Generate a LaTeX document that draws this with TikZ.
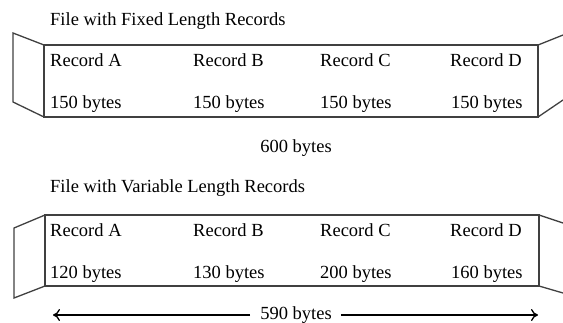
\documentclass[tikz,border=0pt]{standalone}
\usepackage{fontspec}
\setmainfont{Liberation Serif}
\usetikzlibrary{arrows.meta}
\begin{document}
\begin{tikzpicture}[x=1pt,y=-1pt,
  txt/.style={inner sep=0pt,anchor=base west,font=\fontsize{18.5}{20}\selectfont},
  ctxt/.style={txt,anchor=base},
  edge/.style={draw=black!75,line width=1.3pt,line join=miter},
  dim/.style={draw=black,line width=1.3pt}]
\useasboundingbox (0,0) rectangle (563,322);
\clip (0,0) rectangle (563,322);

% ---- file with fixed length records ----
\node[txt] (t1) at (50,25) {File with Fixed Length Records};
\coordinate (f1nw) at (44,45);
\coordinate (f1se) at (538,117);
\draw[edge] (f1nw) rectangle (f1se);
\draw[edge] (f1nw) -- (13,33) -- (13,102) -- (f1nw |- f1se);
\draw[edge] (f1se |- f1nw) -- (563,35);
\draw[edge] (f1se) -- (563,100);
\node[txt] (fa) at (50,66) {Record A};
\node[txt] (fb) at (193,66) {Record B};
\node[txt] (fc) at (320,66) {Record C};
\node[txt] (fd) at (450,66) {Record D};
\node[txt] (fas) at (50,108) {150 bytes};
\node[txt] (fbs) at (193,108) {150 bytes};
\node[txt] (fcs) at (320,108) {150 bytes};
\node[txt] (fds) at (451,108) {150 bytes};
\node[ctxt] (ftot) at (296,152) {600 bytes};

% ---- file with variable length records ----
\node[txt] (t2) at (50,192) {File with Variable Length Records};
\coordinate (v1nw) at (45,215);
\coordinate (v1se) at (539,286);
\draw[edge] (v1nw) rectangle (v1se);
\draw[edge] (v1nw) -- (14,228) -- (14,298) -- (v1nw |- v1se);
\draw[edge] (v1se |- v1nw) -- (563,223);
\draw[edge] (v1se) -- (563,293);
\node[txt] (va) at (50,236) {Record A};
\node[txt] (vb) at (193,236) {Record B};
\node[txt] (vc) at (320,236) {Record C};
\node[txt] (vd) at (450,236) {Record D};
\node[txt] (vas) at (50,278) {120 bytes};
\node[txt] (vbs) at (193,278) {130 bytes};
\node[txt] (vcs) at (320,278) {200 bytes};
\node[txt] (vds) at (451,278) {160 bytes};

% total length with two-headed dimension line
\node[ctxt] (vtot) at (296,319) {590 bytes};
\coordinate (dl) at (53,315);
\coordinate (dr) at (538,315);
\draw[dim,-{Computer Modern Rightarrow[length=7pt,width=12pt]}] (vtot.west |- dl) ++(-10,0) -- (dl);
\draw[dim,-{Computer Modern Rightarrow[length=7pt,width=12pt]}] (vtot.east |- dr) ++(9,0) -- (dr);
\end{tikzpicture}
\end{document}
